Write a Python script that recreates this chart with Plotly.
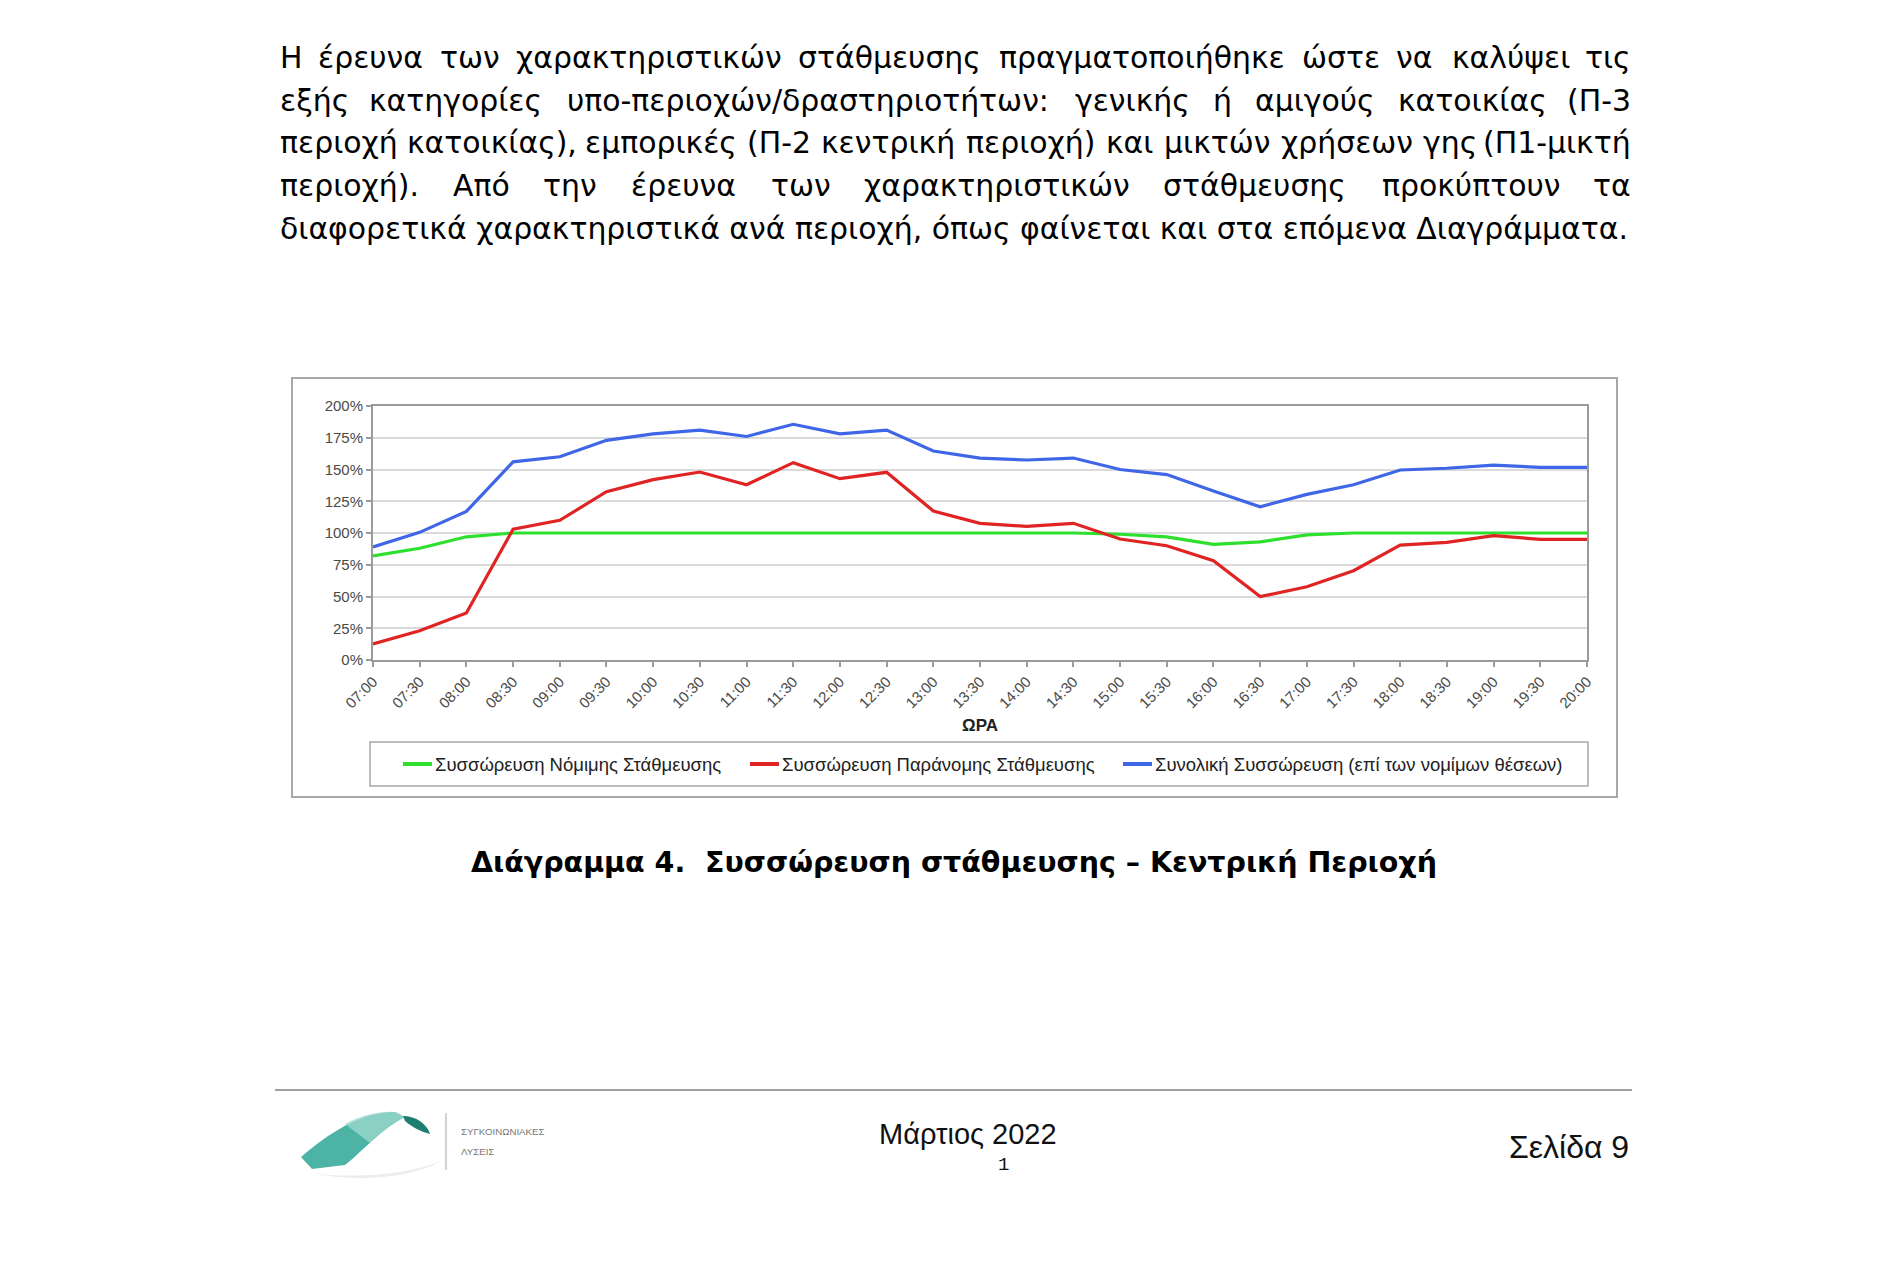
import unicodedata
import plotly.graph_objects as go

# ---------------- data ----------------
times = ["07:00", "07:30", "08:00", "08:30", "09:00", "09:30", "10:00", "10:30", "11:00",
         "11:30", "12:00", "12:30", "13:00", "13:30", "14:00", "14:30", "15:00", "15:30",
         "16:00", "16:30", "17:00", "17:30", "18:00", "18:30", "19:00", "19:30", "20:00"]
legal = [82, 88, 97, 100, 100, 100, 100, 100, 100, 100, 100, 100, 100, 100, 100, 100,
         99, 97, 91, 93, 98.5, 100, 100, 100, 100, 100, 100]
illegal = [12.6, 23, 37, 103, 110, 132.5, 142, 148, 138, 155.4, 142.8, 147.8, 117.3, 107.6,
           105.2, 107.6, 95.3, 90, 78.2, 49.9, 57.7, 70.3, 90.5, 92.6, 97.9, 95, 95]
total = [89, 100.5, 117, 156, 160, 173, 178, 181, 176, 185.6, 178, 181, 164.6, 159, 157.5,
         159, 150, 146, 133, 120.7, 130.4, 138, 149.6, 151, 153.5, 151.7, 151.7]
y_ticks = [0, 25, 50, 75, 100, 125, 150, 175, 200]
y_ticklabels = [f"{v}%" for v in y_ticks]

series_names = ["Συσσώρευση Νόμιμης Στάθμευσης",
                "Συσσώρευση Παράνομης Στάθμευσης",
                "Συνολική Συσσώρευση (επί των νομίμων θέσεων)"]
series_colors = ["#2EE02E", "#E02424", "#3F66E6"]

paragraph_lines = [
    "Η έρευνα των χαρακτηριστικών στάθμευσης πραγματοποιήθηκε ώστε να καλύψει τις",
    "εξής κατηγορίες υπο-περιοχών/δραστηριοτήτων: γενικής ή αμιγούς κατοικίας (Π-3",
    "περιοχή κατοικίας), εμπορικές (Π-2 κεντρική περιοχή) και μικτών χρήσεων γης (Π1-μικτή",
    "περιοχή). Από την έρευνα των χαρακτηριστικών στάθμευσης προκύπτουν τα",
    "διαφορετικά χαρακτηριστικά ανά περιοχή, όπως φαίνεται και στα επόμενα Διαγράμματα.",
]
caption = "Διάγραμμα 4.\u00a0 Συσσώρευση στάθμευσης – Κεντρική Περιοχή"
x_title = "ΩΡΑ"
footer_center = "Μάρτιος 2022"
footer_num = "1"
footer_right = "Σελίδα 9"
logo_lines = ["ΣΥΓΚΟΙΝΩΝΙΑΚΕΣ", "ΛΥΣΕΙΣ"]

# ---------------- page geometry helpers ----------------
OFF = 8
W, H = 1884, 1260


def fx(x):
    return (x - OFF) / W


def fy(y):
    return 1 - (y - OFF) / H


PL, PR, PT, PB = 373, 1587, 406, 660  # plot area in page pixels

ARIAL = "Arial, Liberation Sans, sans-serif"
TEXTF = "DejaVu Sans, Verdana, sans-serif"

fig = go.Figure()
for vals, name, col in zip([legal, illegal, total], series_names, series_colors):
    fig.add_trace(go.Scatter(x=times, y=vals, mode="lines", name=name,
                             line=dict(color=col, width=3.2), showlegend=False))

fig.update_layout(
    width=W, height=H, autosize=False,
    margin=dict(l=0, r=0, t=0, b=0),
    paper_bgcolor="white", plot_bgcolor="white",
    xaxis=dict(type="category", categoryorder="array", categoryarray=times,
               range=[0, len(times) - 1], domain=[fx(PL), fx(PR)],
               showline=True, linecolor="#9A9A9A", linewidth=2, mirror=True,
               ticks="outside", ticklen=5, tickcolor="#9A9A9A", tickwidth=1.5,
               tickangle=-45, tickfont=dict(family=ARIAL, size=15, color="#4A4A4A"),
               showgrid=False, automargin=False, fixedrange=True),
    yaxis=dict(range=[0, 200], tickvals=y_ticks, ticktext=y_ticklabels,
               domain=[fy(PB), fy(PT)],
               showline=True, linecolor="#9A9A9A", linewidth=2, mirror=True,
               ticks="outside", ticklen=5, tickcolor="#9A9A9A", tickwidth=1.5,
               gridcolor="#DADADA", gridwidth=1.5, zeroline=False,
               tickfont=dict(family=ARIAL, size=15, color="#4A4A4A"),
               automargin=False, fixedrange=True),
)

shapes = []
annotations = []


def rect(x0, y0, x1, y1, color, width):
    shapes.append(dict(type="rect", xref="paper", yref="paper",
                       x0=fx(x0), x1=fx(x1), y0=fy(y1), y1=fy(y0),
                       line=dict(color=color, width=width), fillcolor="rgba(0,0,0,0)",
                       layer="below"))


def hline(x0, x1, y, color, width):
    shapes.append(dict(type="line", xref="paper", yref="paper",
                       x0=fx(x0), x1=fx(x1), y0=fy(y), y1=fy(y),
                       line=dict(color=color, width=width)))


def text(x, y, s, size, family, color="#000", xanchor="left", bold=False):
    annotations.append(dict(xref="paper", yref="paper", x=fx(x), y=fy(y), text=s,
                            showarrow=False, xanchor=xanchor, yanchor="middle",
                            font=dict(family=family, size=size, color=color,
                                      weight="bold" if bold else "normal")))


def path(points, fill, closed=True):
    parts = []
    for cmd, pts in points:
        parts.append(cmd + " " + " ".join(f"{fx(x):.5f},{fy(y):.5f}" for x, y in pts))
    d = " ".join(parts) + (" Z" if closed else "")
    shapes.append(dict(type="path", xref="paper", yref="paper", path=d,
                       fillcolor=fill, line=dict(width=0)))


# ---------------- paragraph (justified) ----------------
CW = {" ": .318, "(": .390, ")": .390, ",": .318, ".": .318, "-": .361, "/": .337,
      ":": .337, "1": .636, "2": .636, "3": .636,
      "α": .659, "β": .640, "γ": .592, "δ": .612, "ε": .541, "ζ": .532, "η": .634,
      "θ": .612, "ι": .338, "κ": .589, "λ": .592, "μ": .636, "ν": .592, "ξ": .545,
      "ο": .612, "π": .652, "ρ": .635, "ς": .550, "σ": .634, "τ": .589, "υ": .610,
      "φ": .796, "χ": .592, "ψ": .796, "ω": .837,
      "Η": .752, "Π": .752, "Α": .684, "Δ": .684, "Σ": .632}


def text_w(s, size):
    return sum(CW.get(unicodedata.normalize("NFD", ch)[0], .6) for ch in s) * size


P_LEFT, P_RIGHT = 278, 1633
P_SIZE = 29.9
P_Y0, P_DY = 58, 42.5
for i, line in enumerate(paragraph_lines):
    yy = P_Y0 + i * P_DY
    if i == len(paragraph_lines) - 1:
        text(P_LEFT, yy, line, P_SIZE, TEXTF)
        continue
    words = line.split(" ")
    widths = [text_w(w, P_SIZE) for w in words]
    gap = (P_RIGHT - P_LEFT - sum(widths)) / (len(words) - 1)
    xx = P_LEFT
    for j, (wd, w) in enumerate(zip(words, widths)):
        if j == 0:
            text(P_LEFT, yy, wd, P_SIZE, TEXTF)
        elif j == len(words) - 1:
            text(P_RIGHT, yy, wd, P_SIZE, TEXTF, xanchor="right")
        else:
            text(xx + w / 2, yy, wd, P_SIZE, TEXTF, xanchor="center")
        xx += w + gap

# ---------------- chart frame, axis title, legend ----------------
rect(292, 378, 1617, 797, "#A8A8A8", 2)
text((PL + PR) / 2, 725, x_title, 17, ARIAL, "#222", xanchor="center", bold=True)
rect(370, 742, 1588, 786, "#A8A8A8", 1.5)
legend_x = [403, 750, 1123]
for lx, name, col in zip(legend_x, series_names, series_colors):
    hline(lx, lx + 29, 764, col, 4)
    text(lx + 30, 764, name, 18.5, ARIAL, "#222")

# ---------------- caption ----------------
text(954, 862.5, caption, 28.5, TEXTF, "#000", xanchor="center", bold=True)

# ---------------- footer ----------------
hline(275, 1632, 1090, "#808080", 1.5)
text(968, 1134, footer_center, 29, ARIAL, "#111", xanchor="center")
text(1003, 1165, footer_num, 19, "Liberation Mono, Courier New, monospace", "#111", xanchor="center")
text(1631, 1147, footer_right, 32, ARIAL, "#111", xanchor="right")

# logo
path([("M", [(312, 1173)]), ("C", [(360, 1180), (420, 1172), (442, 1160)]),
      ("C", [(420, 1176), (360, 1184), (312, 1173)])], "#EDEDED")
path([("M", [(301, 1157)]), ("C", [(328, 1134), (360, 1112), (395, 1112)]),
      ("L", [(405, 1117)]), ("C", [(382, 1128), (362, 1152), (345, 1165)]),
      ("L", [(312, 1169)])], "#4DB3A4")
path([("M", [(345, 1124)]), ("C", [(362, 1115), (380, 1111), (395, 1112)]),
      ("L", [(405, 1117)]), ("C", [(392, 1123), (380, 1133), (370, 1143)])], "rgba(160,218,208,0.75)")
path([("M", [(403, 1116)]), ("C", [(416, 1116), (427, 1124), (430, 1134)]),
      ("C", [(421, 1132), (412, 1127), (405, 1121)])], "#1E7F70")
shapes.append(dict(type="line", xref="paper", yref="paper", x0=fx(446), x1=fx(446),
                   y0=fy(1113), y1=fy(1170), line=dict(color="#C4C4C4", width=1.5)))
text(459, 1131, logo_lines[0], 9.7, ARIAL, "#777")
text(459, 1151, logo_lines[1], 9.7, ARIAL, "#777")

fig.update_layout(shapes=shapes, annotations=annotations)
fig.write_html("out.html")
